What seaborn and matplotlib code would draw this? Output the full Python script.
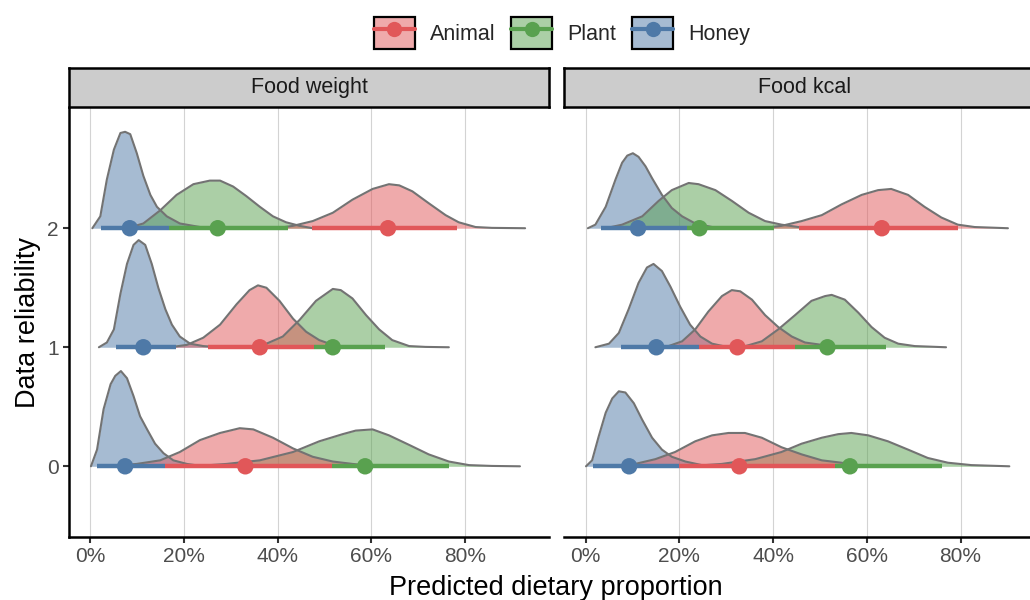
import matplotlib
matplotlib.use("Agg")
import matplotlib.pyplot as plt
import numpy as np
import pandas as pd
import seaborn as sns
from matplotlib.patches import Patch
from matplotlib.lines import Line2D
from matplotlib.legend_handler import HandlerTuple
from matplotlib.colors import to_rgba
from matplotlib.ticker import PercentFormatter

# ---------------- data (percent, density height in row units) ----------------
groups = ["Animal", "Plant", "Honey"]
panels = ["Food weight", "Food kcal"]
rows = [0, 1, 2]
x_ticks = [0, 20, 40, 60, 80]

# Food weight densities: per row -> (x%, height)
weight_honey = [
    ([0.1, 1.4, 2.8, 4.3, 5.3, 6.5, 7.8, 9.2, 10.6, 12.1, 13.8, 15.6, 17.7, 20.6, 24.1],
     [0, 0.14, 0.48, 0.69, 0.76, 0.80, 0.74, 0.59, 0.42, 0.31, 0.19, 0.11, 0.05, 0.02, 0]),
    ([1.8, 3.5, 5.0, 6.4, 7.8, 9.2, 10.3, 11.7, 13.1, 14.5, 16.0, 17.4, 19.1, 21.3, 24.1, 27.7],
     [0, 0.04, 0.15, 0.45, 0.70, 0.86, 0.90, 0.86, 0.70, 0.50, 0.32, 0.19, 0.09, 0.03, 0.01, 0]),
    ([0.4, 2.1, 3.5, 5.0, 6.4, 7.4, 8.5, 9.9, 11.3, 12.8, 14.2, 16.3, 19.1, 23.4, 27.0],
     [0, 0.10, 0.41, 0.66, 0.80, 0.81, 0.79, 0.63, 0.44, 0.28, 0.18, 0.10, 0.04, 0.01, 0]),
]
weight_plant = [
    ([22.0, 29.1, 36.2, 43.3, 48.9, 53.9, 56.7, 60.3, 63.8, 68.1, 72.3, 76.6, 80.9, 85.8, 91.8],
     [0, 0.02, 0.05, 0.12, 0.21, 0.27, 0.30, 0.31, 0.26, 0.18, 0.10, 0.04, 0.01, 0.003, 0]),
    ([33.3, 37.6, 41.1, 44.7, 48.2, 51.8, 53.5, 56.0, 58.9, 61.7, 64.5, 68.1, 71.6, 76.6],
     [0, 0.03, 0.09, 0.23, 0.39, 0.49, 0.48, 0.41, 0.27, 0.15, 0.06, 0.01, 0.003, 0]),
    ([7.8, 11.3, 14.9, 18.4, 22.0, 25.5, 27.7, 30.5, 33.3, 36.2, 39.0, 41.8, 44.7, 47.5],
     [0, 0.04, 0.15, 0.28, 0.37, 0.40, 0.40, 0.35, 0.27, 0.18, 0.10, 0.05, 0.02, 0]),
]
weight_animal = [
    ([4.3, 9.9, 14.9, 19.1, 23.4, 27.7, 31.9, 34.8, 39.0, 43.3, 47.5, 51.8, 56.0, 61.0],
     [0, 0.02, 0.05, 0.12, 0.22, 0.28, 0.32, 0.31, 0.24, 0.15, 0.08, 0.04, 0.02, 0]),
    ([17.0, 20.6, 24.1, 27.7, 31.2, 34.0, 35.8, 37.6, 40.4, 43.3, 46.1, 48.9, 51.8, 54.6],
     [0, 0.02, 0.08, 0.19, 0.36, 0.48, 0.52, 0.50, 0.39, 0.24, 0.13, 0.06, 0.02, 0]),
    ([39.7, 43.3, 47.5, 51.8, 56.0, 60.3, 63.8, 66.0, 68.8, 72.3, 75.9, 78.7, 82.3, 85.8, 92.9],
     [0, 0.02, 0.06, 0.13, 0.24, 0.33, 0.37, 0.36, 0.31, 0.21, 0.11, 0.05, 0.01, 0.003, 0]),
]

# Food kcal densities
kcal_honey = [
    ([0.1, 1.4, 2.8, 4.3, 5.7, 7.1, 8.5, 10.3, 12.1, 14.2, 16.3, 18.4, 21.3, 24.8, 29.1],
     [0, 0.05, 0.25, 0.45, 0.57, 0.63, 0.62, 0.53, 0.39, 0.24, 0.14, 0.08, 0.04, 0.01, 0]),
    ([2.1, 5.0, 7.1, 9.2, 11.3, 13.1, 14.5, 16.3, 18.1, 20.2, 22.3, 24.5, 27.0, 30.5],
     [0, 0.03, 0.12, 0.32, 0.54, 0.67, 0.70, 0.64, 0.51, 0.34, 0.19, 0.09, 0.03, 0]),
    ([0.5, 2.1, 4.3, 6.4, 7.8, 8.9, 10.1, 11.3, 12.8, 14.2, 16.3, 18.4, 20.6, 23.4, 27.0, 30.5],
     [0, 0.03, 0.18, 0.41, 0.55, 0.61, 0.63, 0.60, 0.52, 0.42, 0.28, 0.17, 0.10, 0.04, 0.01, 0]),
]
kcal_plant = [
    ([22.0, 29.1, 36.2, 41.8, 46.1, 50.4, 53.9, 56.7, 60.3, 64.5, 68.8, 73.0, 77.3, 82.3, 90.4],
     [0, 0.02, 0.06, 0.12, 0.19, 0.24, 0.27, 0.28, 0.26, 0.21, 0.14, 0.07, 0.03, 0.01, 0]),
    ([33.3, 37.6, 41.1, 44.7, 48.2, 51.1, 52.5, 55.3, 58.2, 61.0, 63.8, 66.7, 70.2, 76.9],
     [0, 0.05, 0.15, 0.27, 0.39, 0.43, 0.44, 0.40, 0.29, 0.17, 0.08, 0.03, 0.01, 0]),
    ([4.3, 7.8, 12.1, 15.6, 18.4, 22.0, 24.1, 27.7, 31.2, 34.8, 38.3, 41.8, 45.4, 48.9],
     [0, 0.03, 0.10, 0.23, 0.32, 0.38, 0.37, 0.32, 0.23, 0.13, 0.06, 0.03, 0.01, 0]),
]
kcal_animal = [
    ([5.7, 10.6, 14.9, 19.1, 23.4, 27.0, 30.5, 34.0, 37.6, 41.8, 46.1, 50.4, 54.6, 59.6],
     [0, 0.02, 0.06, 0.12, 0.21, 0.26, 0.28, 0.28, 0.24, 0.16, 0.10, 0.05, 0.03, 0]),
    ([17.0, 20.6, 23.4, 26.2, 29.1, 31.2, 33.0, 35.5, 38.3, 41.1, 44.0, 46.8, 50.4, 53.9],
     [0, 0.05, 0.15, 0.30, 0.43, 0.48, 0.47, 0.40, 0.27, 0.17, 0.09, 0.04, 0.02, 0]),
    ([37.6, 41.8, 46.1, 50.4, 54.6, 58.9, 62.4, 65.2, 68.8, 72.3, 75.9, 79.4, 83.0, 90.1],
     [0, 0.02, 0.06, 0.11, 0.20, 0.28, 0.32, 0.33, 0.28, 0.18, 0.09, 0.03, 0.01, 0]),
]

# point estimates and visible intervals (percent), per row 0,1,2
weight_point = {"Animal": [33.1, 36.2, 63.6], "Plant": [58.7, 51.8, 27.2], "Honey": [7.4, 11.3, 8.4]}
weight_lo = {"Animal": [16.0, 25.2, 47.3], "Plant": [51.6, 47.7, 16.7], "Honey": [1.4, 5.5, 2.3]}
weight_hi = {"Animal": [51.6, 47.7, 78.4], "Plant": [76.6, 63.0, 42.3], "Honey": [16.0, 18.3, 16.7]}
kcal_point = {"Animal": [32.8, 32.4, 63.2], "Plant": [56.4, 51.6, 24.3], "Honey": [9.3, 15.1, 11.2]}
kcal_lo = {"Animal": [19.9, 24.1, 45.5], "Plant": [53.2, 44.7, 21.6], "Honey": [1.6, 7.6, 3.2]}
kcal_hi = {"Animal": [53.2, 44.7, 79.4], "Plant": [76.1, 64.0, 40.1], "Honey": [19.9, 24.1, 21.6]}

colors = {"Animal": "#E15759", "Plant": "#59A14F", "Honey": "#4E79A7"}

dens = {
    "Food weight": {"Animal": weight_animal, "Plant": weight_plant, "Honey": weight_honey},
    "Food kcal": {"Animal": kcal_animal, "Plant": kcal_plant, "Honey": kcal_honey},
}
points = {"Food weight": (weight_point, weight_lo, weight_hi),
          "Food kcal": (kcal_point, kcal_lo, kcal_hi)}

# ---------------- figure ----------------
sns.set_theme(style="white")
plt.rcParams["font.family"] = ["Liberation Sans", "DejaVu Sans"]

W, H = 1030, 600
fig = plt.figure(figsize=(W / 100, H / 100), dpi=100)


def rect(l, t, r, b):
    return [l / W, 1 - b / H, (r - l) / W, (b - t) / H]


ax_l = fig.add_axes(rect(68.5, 108, 548.5, 537))
ax_r = fig.add_axes(rect(563.5, 108, 1044.5, 537))
strip_l = fig.add_axes(rect(69, 68, 549, 107))
strip_r = fig.add_axes(rect(564, 68, 1045, 107))

draw_order = ["Honey", "Plant", "Animal"]

for ax, panel in zip([ax_l, ax_r], panels):
    for g in draw_order:
        recs = []
        for r, (xs, hs) in zip(rows, dens[panel][g]):
            xs = np.asarray(xs) / 100.0
            top = r + np.asarray(hs)
            ax.fill_between(xs, r, top, color=colors[g], alpha=0.5, lw=0, zorder=2)
            for xv, tv in zip(xs, top):
                recs.append({"x": xv, "top": tv, "row": r})
        df = pd.DataFrame(recs)
        sns.lineplot(data=df, x="x", y="top", units="row", estimator=None, sort=False,
                     color="#737373", lw=1.5, ax=ax, legend=False, zorder=3)
    pt, lo, hi = points[panel]
    for g in draw_order:
        ax.hlines(rows, np.asarray(lo[g]) / 100, np.asarray(hi[g]) / 100,
                  color=colors[g], lw=3.2, zorder=4)
    for g in draw_order:
        sns.scatterplot(x=np.asarray(pt[g]) / 100, y=rows, color=colors[g], s=140,
                        edgecolor="none", linewidth=0, ax=ax, zorder=5, legend=False)

    ax.set_xlim(-0.047, 0.979)
    ax.set_ylim(-0.594, 3.01)
    ax.set_xticks(np.asarray(x_ticks) / 100)
    ax.xaxis.set_major_formatter(PercentFormatter(1.0, decimals=0))
    ax.set_yticks(rows)
    ax.grid(axis="x", color="#D3D3D3", lw=0.8)
    ax.grid(axis="y", visible=False)
    ax.set_axisbelow(True)
    ax.set_xlabel("")
    ax.set_ylabel("")
    ax.set_facecolor("white")
    for s in ["top", "right"]:
        ax.spines[s].set_visible(False)
    ax.spines["bottom"].set_color("black")
    ax.spines["bottom"].set_linewidth(1.8)
    ax.tick_params(axis="both", direction="out", length=4, width=1.5, color="#333333",
                   labelsize=15, labelcolor="#4D4D4D", pad=3, bottom=True, left=True)

ax_l.spines["left"].set_color("black")
ax_l.spines["left"].set_linewidth(1.8)
ax_r.spines["left"].set_visible(False)
ax_r.tick_params(axis="y", left=False, labelleft=False)

for sax, panel in zip([strip_l, strip_r], panels):
    sax.set_facecolor("#CCCCCC")
    sax.set_xticks([])
    sax.set_yticks([])
    for s in sax.spines.values():
        s.set_visible(True)
        s.set_color("black")
        s.set_linewidth(1.8)
    sax.text(0.5, 0.5, panel, ha="center", va="center", fontsize=15.5, color="#1A1A1A",
             transform=sax.transAxes)

fig.text(556 / W, 1 - 588 / H, "Predicted dietary proportion", ha="center", va="center",
         fontsize=19.5, color="black")
fig.text(28 / W, 1 - 322 / H, "Data reliability", ha="center", va="center",
         rotation=90, fontsize=19.5, color="black")

handles = []
for g in groups:
    box = Patch(facecolor=to_rgba(colors[g], 0.5), edgecolor="black", linewidth=1.6)
    ln = Line2D([], [], color=colors[g], lw=3, marker="o", markersize=11,
                markeredgewidth=0)
    handles.append((box, ln))
fig.legend(handles, groups, loc="center", bbox_to_anchor=(562 / W, 1 - 33 / H), ncol=3,
           frameon=False, fontsize=15.5, handlelength=1.9, handleheight=1.85,
           handletextpad=0.7, columnspacing=0.75,
           handler_map={tuple: HandlerTuple(ndivide=1, pad=0)})

fig.savefig("out.png", dpi=100)
